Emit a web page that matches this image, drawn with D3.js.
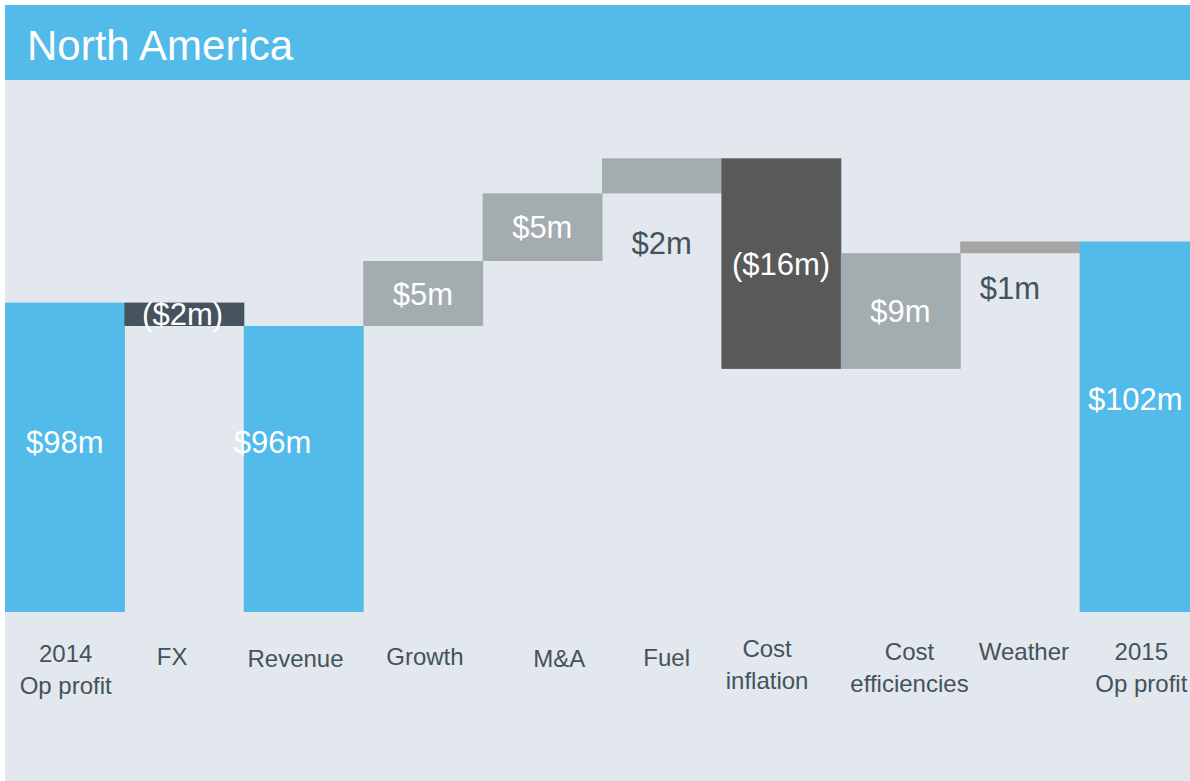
<!DOCTYPE html>
<html>
<head>
<meta charset="utf-8">
<script src="https://cdn.jsdelivr.net/npm/d3@7"></script>
<style>
  html, body { margin: 0; padding: 0; background: #ffffff; }
  svg { display: block; font-family: "Liberation Sans", Arial, sans-serif; }
</style>
</head>
<body>
<svg id="chart" width="1190" height="781"></svg>
<script>
// ---- Data ----
const title = "North America";
const categories = ["2014 Op profit", "FX", "Revenue", "Growth", "M&A", "Fuel",
                    "Cost inflation", "Cost efficiencies", "Weather", "2015 Op profit"];
const categoryLines = [["2014", "Op profit"], ["FX"], ["Revenue"], ["Growth"], ["M&A"], ["Fuel"],
                       ["Cost", "inflation"], ["Cost", "efficiencies"], ["Weather"], ["2015", "Op profit"]];
const barTypes = ["total", "delta", "subtotal", "delta", "delta", "delta", "delta", "delta", "delta", "total"];
// start value and changes ($m)
const values = [97.6, -1.8, null, 5.0, 5.2, 2.7, -16.2, 8.9, 0.9, null];
const valueLabels = ["$98m", "($2m)", "$96m", "$5m", "$5m", "$2m", "($16m)", "$9m", "$1m", "$102m"];

// ---- Styles / layout ----
const barColors = ["#53BBEA", "#44535E", "#53BBEA", "#A3ACAF", "#A3ACAF", "#A3ACAF",
                   "#595959", "#A3ACAF", "#A5A5A5", "#53BBEA"];
const labelColors = ["#ffffff", "#ffffff", "#ffffff", "#ffffff", "#ffffff", "#44525C",
                     "#ffffff", "#ffffff", "#44525C", "#ffffff"];
const labelDx = [0, -1.5, -31, 0, 0, 0, 0, 0, -10, -4];
const labelDy = [-4.5, 11, -16, 11, 11, 78.5, 11, 11, 52, -16.5];
const catDx = [1, -12, -8, 2, 17, 5, -14, 9, 4, 2];
const catY = [662, 665, 667, 665, 667, 666, 657, 660, 660, 660];

const svg = d3.select("#chart");

// backgrounds
svg.append("rect").attr("x", 5).attr("y", 80).attr("width", 1185).attr("height", 701).attr("fill", "#E2E8ED");
svg.append("rect").attr("x", 5).attr("y", 5).attr("width", 1185).attr("height", 75).attr("fill", "#53BBEA");
svg.append("text").attr("x", 27).attr("y", 60).attr("fill", "#ffffff")
  .attr("font-size", 42).text(title);

// compute waterfall
let running = 0;
const bars = categories.map((c, i) => {
  const t = barTypes[i];
  let y0, y1;
  if (t === "total" && values[i] !== null) { running = values[i]; y0 = null; y1 = running; }
  else if (t === "total" || t === "subtotal") { y0 = null; y1 = running; }
  else { y0 = running; running += values[i]; y1 = running; }
  return { cat: c, type: t, y0, y1, i };
});

const bottomY = 612, pxPerUnit = 13, vMin = 73.8, vMax = 110;
const x = d3.scaleBand().domain(categories).range([5, 1199]).padding(0);
const y = d3.scaleLinear().domain([vMin, vMax]).range([bottomY, bottomY - (vMax - vMin) * pxPerUnit]);

const g = svg.append("g");
g.selectAll("rect.bar").data(bars).enter().append("rect")
  .attr("class", "bar")
  .attr("x", d => x(d.cat))
  .attr("width", x.bandwidth() + 0.5)
  .attr("y", d => d.y0 === null ? y(d.y1) : y(Math.max(d.y0, d.y1)))
  .attr("height", d => d.y0 === null ? y(vMin) - y(d.y1) : Math.abs(y(d.y0) - y(d.y1)))
  .attr("fill", d => barColors[d.i]);

// value labels
g.selectAll("text.val").data(bars).enter().append("text")
  .attr("class", "val")
  .attr("text-anchor", "middle")
  .attr("font-size", 31)
  .attr("fill", d => labelColors[d.i])
  .attr("x", d => x(d.cat) + x.bandwidth() / 2 + labelDx[d.i])
  .attr("y", d => {
    const top = d.y0 === null ? y(d.y1) : y(Math.max(d.y0, d.y1));
    const bot = d.y0 === null ? y(vMin) : y(Math.min(d.y0, d.y1));
    return (top + bot) / 2 + labelDy[d.i];
  })
  .text(d => valueLabels[d.i]);

// category labels
const cl = g.selectAll("text.cat").data(categories).enter().append("text")
  .attr("class", "cat")
  .attr("text-anchor", "middle")
  .attr("font-size", 24)
  .attr("fill", "#44525C")
  .attr("x", (d, i) => x(d) + x.bandwidth() / 2 + catDx[i])
  .attr("y", (d, i) => catY[i]);
cl.each(function(d, i) {
  const t = d3.select(this);
  categoryLines[i].forEach((line, j) => {
    t.append("tspan")
      .attr("x", x(d) + x.bandwidth() / 2 + catDx[i])
      .attr("y", catY[i] + j * 32)
      .text(line);
  });
});
</script>
</body>
</html>
